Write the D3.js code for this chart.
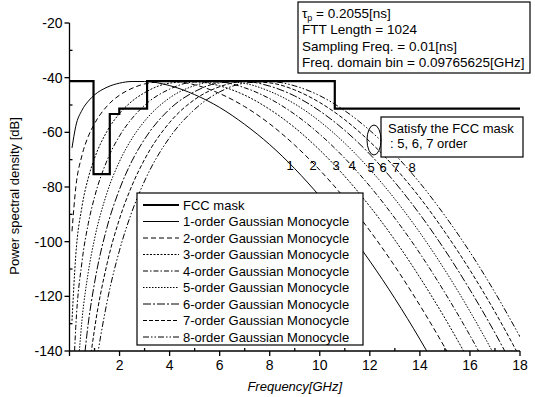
<!DOCTYPE html>
<html>
<head>
<meta charset="utf-8">
<script src="https://cdn.jsdelivr.net/npm/d3@7"></script>
<style>
  html, body { margin: 0; padding: 0; background: #fff; }
  svg { display: block; font-family: "Liberation Sans", Arial, sans-serif; }
</style>
</head>
<body>
<svg id="chart" width="535" height="397"></svg>
<script>
// Frequency grid (GHz) shared by all Gaussian monocycle spectra
const freqGHz = [0.1, 0.25, 0.5, 0.75, 1, 1.5, 2, 2.5, 3, 4, 5, 6, 7, 8, 9, 10, 11, 12, 13, 14, 15, 16, 17, 18];

// Power spectral density (dB) of the n-th order Gaussian monocycle, tau_p = 0.2055 ns
const order1 = [-65.7, -57.8, -51.9, -48.6, -46.3, -43.5, -42.0, -41.4, -41.4, -42.9, -46.2, -50.9, -57.1, -64.5, -73.3, -83.4, -94.6, -107.1, -120.8, -135.7, -151.9, null, null, null];
const order2 = [-96.2, -80.3, -68.4, -61.5, -56.8, -50.4, -46.4, -43.9, -42.3, -41.3, -42.6, -45.8, -50.6, -56.9, -64.7, -73.8, -84.2, -96.0, -109.0, -123.3, -138.8, -155.5, null, null];
const order3 = [-128.9, -105.1, -87.1, -76.7, -69.5, -59.6, -53.1, -48.6, -45.5, -42.0, -41.4, -43.0, -46.4, -51.6, -58.3, -66.5, -76.1, -87.1, -99.4, -113.1, -128.0, -144.2, null, null];
const order4 = [-163.0, -131.3, -107.3, -93.4, -83.7, -70.3, -61.3, -54.9, -50.1, -44.2, -41.6, -41.6, -43.7, -47.7, -53.4, -60.7, -69.5, -79.7, -91.4, -104.3, -118.7, -134.3, -151.2, null];
const order5 = [null, -158.6, -128.6, -111.2, -99.0, -82.1, -70.6, -62.2, -55.9, -47.4, -42.9, -41.3, -42.1, -45.0, -49.6, -56.0, -64.0, -73.5, -84.4, -96.7, -110.4, -125.5, -141.9, -159.6];
const order6 = [null, null, -150.8, -129.9, -115.1, -94.7, -80.8, -70.4, -62.5, -51.5, -45.1, -41.9, -41.4, -43.1, -46.7, -52.2, -59.3, -68.0, -78.3, -90.0, -103.1, -117.6, -133.4, -150.6];
const order7 = [null, null, -173.8, -149.3, -132.0, -108.1, -91.6, -79.4, -69.9, -56.4, -48.0, -43.3, -41.4, -41.9, -44.5, -49.1, -55.4, -63.4, -72.9, -83.9, -96.5, -110.4, -125.7, -142.4];
const order8 = [null, null, null, -169.3, -149.6, -122.1, -103.1, -88.9, -77.8, -61.9, -51.6, -45.2, -42.0, -41.4, -43.0, -46.6, -52.1, -59.3, -68.1, -78.5, -90.5, -103.8, -118.6, -134.8];

// FCC indoor emission mask: band edges (GHz) and level (dB) of each band
const maskEdges = [0, 0.96, 1.61, 1.99, 3.1, 10.6, 18];
const maskLevels = [-41.3, -75.3, -53.3, -51.3, -41.3, -51.3];

const seriesNames = ["FCC mask", "1-order Gaussian Monocycle", "2-order Gaussian Monocycle", "3-order Gaussian Monocycle",
  "4-order Gaussian Monocycle", "5-order Gaussian Monocycle", "6-order Gaussian Monocycle",
  "7-order Gaussian Monocycle", "8-order Gaussian Monocycle"];
const curveLabels = ["1", "2", "3", "4", "5", "6", "7", "8"];

const xTicks = [2, 4, 6, 8, 10, 12, 14, 16, 18];
const yTicks = [-20, -40, -60, -80, -100, -120, -140];

const infoLines = ["= 0.2055[ns]", "FTT Length = 1024", "Sampling Freq. = 0.01[ns]", "Freq. domain bin = 0.09765625[GHz]"];
const noteLines = ["Satisfy the FCC mask", ": 5, 6, 7 order"];

const orders = [order1, order2, order3, order4, order5, order6, order7, order8];
const dashes = [null, "5,3", "2,1.5", "5,2,1.5,2", "1.5,1.5", "8,2,2,2", "4,2", "6,2,1.5,2,1.5,2"];

const svg = d3.select("#chart");
const x = d3.scaleLinear().domain([0, 18]).range([69.5, 520]);
const y = d3.scaleLinear().domain([-140, -20]).range([351, 23]);

svg.append("defs").append("clipPath").attr("id", "plotClip")
  .append("rect").attr("x", x(0)).attr("y", y(-20)).attr("width", x(18) - x(0)).attr("height", y(-140) - y(-20));

const plot = svg.append("g").attr("clip-path", "url(#plotClip)");

const line = d3.line()
  .defined(d => d[1] !== null)
  .x(d => x(d[0]))
  .y(d => y(d[1]))
  .curve(d3.curveMonotoneX);

orders.forEach((vals, i) => {
  plot.append("path")
    .attr("d", line(freqGHz.map((f, k) => [f, vals[k]])))
    .attr("fill", "none")
    .attr("stroke", "#000")
    .attr("stroke-width", 1)
    .attr("stroke-dasharray", dashes[i]);
});

// FCC mask as a step line
const maskPts = [];
maskLevels.forEach((lv, i) => { maskPts.push([maskEdges[i], lv]); maskPts.push([maskEdges[i + 1], lv]); });
plot.append("path")
  .attr("d", d3.line().x(d => x(d[0])).y(d => y(d[1]))(maskPts))
  .attr("fill", "none").attr("stroke", "#000").attr("stroke-width", 2.2);

// Axes
const axes = svg.append("g").attr("stroke", "#000").attr("stroke-width", 1.3);
axes.append("line").attr("x1", x(0)).attr("x2", x(0)).attr("y1", y(-20)).attr("y2", y(-140));
axes.append("line").attr("x1", x(0)).attr("x2", x(18)).attr("y1", y(-140)).attr("y2", y(-140));

const xMinor = d3.range(1, 18, 2);
const yMinor = d3.range(-130, -20, 20);
xTicks.concat([0]).forEach(t => axes.append("line").attr("x1", x(t)).attr("x2", x(t)).attr("y1", y(-140)).attr("y2", y(-140) + 5));
xMinor.forEach(t => axes.append("line").attr("x1", x(t)).attr("x2", x(t)).attr("y1", y(-140)).attr("y2", y(-140) - 3));
yTicks.forEach(t => axes.append("line").attr("x1", x(0) - 5).attr("x2", x(0)).attr("y1", y(t)).attr("y2", y(t)));
yMinor.forEach(t => axes.append("line").attr("x1", x(0)).attr("x2", x(0) + 3).attr("y1", y(t)).attr("y2", y(t)));

svg.append("g").selectAll("text").data(xTicks).join("text")
  .attr("x", d => x(d)).attr("y", y(-140) + 19)
  .attr("text-anchor", "middle").attr("font-size", 14).text(d => d);
svg.append("g").selectAll("text").data(yTicks).join("text")
  .attr("x", x(0) - 7).attr("y", d => y(d) + 5)
  .attr("text-anchor", "end").attr("font-size", 14).text(d => d);

svg.append("text").attr("x", (x(0) + x(18)) / 2).attr("y", 391)
  .attr("text-anchor", "middle").attr("font-size", 13).attr("font-style", "italic").text("Frequency[GHz]");
svg.append("text").attr("transform", "translate(19,196) rotate(-90)")
  .attr("text-anchor", "middle").attr("font-size", 13).text("Power spectral density [dB]");

// Curve order labels
const labelPos = [[290, 170], [313, 170], [336, 170], [352, 170], [371, 172], [383, 172], [396, 172], [412, 172]];
svg.append("g").selectAll("text").data(curveLabels).join("text")
  .attr("x", (d, i) => labelPos[i][0]).attr("y", (d, i) => labelPos[i][1])
  .attr("text-anchor", "middle").attr("font-size", 13).text(d => d);

// Legend
const lg = svg.append("g");
lg.append("rect").attr("x", 137).attr("y", 193).attr("width", 226).attr("height", 152)
  .attr("fill", "#fff").attr("stroke", "#000").attr("stroke-width", 1.2);
seriesNames.forEach((name, i) => {
  const yy = 205 + i * 16.5;
  lg.append("line").attr("x1", 143).attr("x2", 179).attr("y1", yy).attr("y2", yy)
    .attr("stroke", "#000")
    .attr("stroke-width", i === 0 ? 2.2 : 1)
    .attr("stroke-dasharray", i === 0 ? null : dashes[i - 1]);
  lg.append("text").attr("x", 183).attr("y", yy + 4.5).attr("font-size", 13).text(name);
});

// Parameter box
const ib = svg.append("g");
ib.append("rect").attr("x", 298).attr("y", 2).attr("width", 232).attr("height", 71)
  .attr("fill", "#fff").attr("stroke", "#000").attr("stroke-width", 1.2);
infoLines.forEach((t, i) => {
  const tx = ib.append("text").attr("x", 302).attr("y", 18 + i * 16.3).attr("font-size", 13.5);
  if (i === 0) {
    tx.append("tspan").text("\u03c4");
    tx.append("tspan").attr("font-size", 9).attr("dy", 3).text("p");
    tx.append("tspan").attr("dy", -3).text(" " + t);
  } else {
    tx.text(t);
  }
});

// Note box with marker ellipse
const nb = svg.append("g");
nb.append("rect").attr("x", 381).attr("y", 117).attr("width", 142).attr("height", 40)
  .attr("fill", "#fff").attr("stroke", "#000").attr("stroke-width", 1.2);
noteLines.forEach((t, i) => {
  nb.append("text").attr("x", i === 0 ? 388 : 390).attr("y", 133 + i * 15).attr("font-size", 13).text(t);
});
nb.append("ellipse").attr("cx", 374).attr("cy", 140).attr("rx", 7).attr("ry", 15)
  .attr("fill", "none").attr("stroke", "#000").attr("stroke-width", 1);
</script>
</body>
</html>
